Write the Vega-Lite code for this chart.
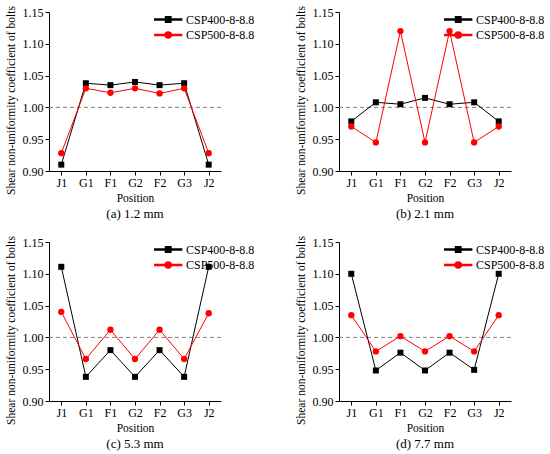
{
  "$schema": "https://vega.github.io/schema/vega-lite/v6.json",
  "background": "white",
  "padding": 5,
  "columns": 2,
  "spacing": {"row": 14, "column": 40},
  "config": {
    "font": "Liberation Serif",
    "view": {"stroke": null},
    "axis": {
      "domainColor": "black", "tickColor": "black", "labelColor": "black", "titleColor": "black",
      "labelFont": "Liberation Serif", "titleFont": "Liberation Serif",
      "labelFontSize": 12, "titleFontSize": 11.5, "titleFontWeight": "normal",
      "grid": false, "tickSize": 4
    },
    "axisY": {"titleY": 88, "titlePadding": 6},
    "axisX": {"titlePadding": 4},
    "legend": {
      "labelFont": "Liberation Serif", "labelFontSize": 12, "labelColor": "black",
      "symbolSize": 180, "labelOffset": 17, "rowPadding": 1.5, "orient": "none", "legendX": 105, "legendY": 0
    },
    "title": {"font": "Liberation Serif", "fontSize": 13, "fontWeight": "normal", "color": "black", "orient": "bottom", "anchor": "middle", "offset": 4}
  },
  "datasets": {
    "bolts": [
      {"panel": "a", "series": "CSP400-8-8.8", "pos": "J1", "v": 0.910},
      {"panel": "a", "series": "CSP400-8-8.8", "pos": "G1", "v": 1.038},
      {"panel": "a", "series": "CSP400-8-8.8", "pos": "F1", "v": 1.035},
      {"panel": "a", "series": "CSP400-8-8.8", "pos": "G2", "v": 1.040},
      {"panel": "a", "series": "CSP400-8-8.8", "pos": "F2", "v": 1.035},
      {"panel": "a", "series": "CSP400-8-8.8", "pos": "G3", "v": 1.038},
      {"panel": "a", "series": "CSP400-8-8.8", "pos": "J2", "v": 0.910},
      {"panel": "a", "series": "CSP500-8-8.8", "pos": "J1", "v": 0.928},
      {"panel": "a", "series": "CSP500-8-8.8", "pos": "G1", "v": 1.030},
      {"panel": "a", "series": "CSP500-8-8.8", "pos": "F1", "v": 1.023},
      {"panel": "a", "series": "CSP500-8-8.8", "pos": "G2", "v": 1.030},
      {"panel": "a", "series": "CSP500-8-8.8", "pos": "F2", "v": 1.022},
      {"panel": "a", "series": "CSP500-8-8.8", "pos": "G3", "v": 1.030},
      {"panel": "a", "series": "CSP500-8-8.8", "pos": "J2", "v": 0.928},
      {"panel": "b", "series": "CSP400-8-8.8", "pos": "J1", "v": 0.978},
      {"panel": "b", "series": "CSP400-8-8.8", "pos": "G1", "v": 1.008},
      {"panel": "b", "series": "CSP400-8-8.8", "pos": "F1", "v": 1.005},
      {"panel": "b", "series": "CSP400-8-8.8", "pos": "G2", "v": 1.015},
      {"panel": "b", "series": "CSP400-8-8.8", "pos": "F2", "v": 1.005},
      {"panel": "b", "series": "CSP400-8-8.8", "pos": "G3", "v": 1.008},
      {"panel": "b", "series": "CSP400-8-8.8", "pos": "J2", "v": 0.978},
      {"panel": "b", "series": "CSP500-8-8.8", "pos": "J1", "v": 0.970},
      {"panel": "b", "series": "CSP500-8-8.8", "pos": "G1", "v": 0.945},
      {"panel": "b", "series": "CSP500-8-8.8", "pos": "F1", "v": 1.120},
      {"panel": "b", "series": "CSP500-8-8.8", "pos": "G2", "v": 0.945},
      {"panel": "b", "series": "CSP500-8-8.8", "pos": "F2", "v": 1.120},
      {"panel": "b", "series": "CSP500-8-8.8", "pos": "G3", "v": 0.945},
      {"panel": "b", "series": "CSP500-8-8.8", "pos": "J2", "v": 0.970},
      {"panel": "c", "series": "CSP400-8-8.8", "pos": "J1", "v": 1.111},
      {"panel": "c", "series": "CSP400-8-8.8", "pos": "G1", "v": 0.938},
      {"panel": "c", "series": "CSP400-8-8.8", "pos": "F1", "v": 0.980},
      {"panel": "c", "series": "CSP400-8-8.8", "pos": "G2", "v": 0.938},
      {"panel": "c", "series": "CSP400-8-8.8", "pos": "F2", "v": 0.980},
      {"panel": "c", "series": "CSP400-8-8.8", "pos": "G3", "v": 0.938},
      {"panel": "c", "series": "CSP400-8-8.8", "pos": "J2", "v": 1.111},
      {"panel": "c", "series": "CSP500-8-8.8", "pos": "J1", "v": 1.040},
      {"panel": "c", "series": "CSP500-8-8.8", "pos": "G1", "v": 0.966},
      {"panel": "c", "series": "CSP500-8-8.8", "pos": "F1", "v": 1.012},
      {"panel": "c", "series": "CSP500-8-8.8", "pos": "G2", "v": 0.966},
      {"panel": "c", "series": "CSP500-8-8.8", "pos": "F2", "v": 1.012},
      {"panel": "c", "series": "CSP500-8-8.8", "pos": "G3", "v": 0.966},
      {"panel": "c", "series": "CSP500-8-8.8", "pos": "J2", "v": 1.038},
      {"panel": "d", "series": "CSP400-8-8.8", "pos": "J1", "v": 1.100},
      {"panel": "d", "series": "CSP400-8-8.8", "pos": "G1", "v": 0.948},
      {"panel": "d", "series": "CSP400-8-8.8", "pos": "F1", "v": 0.976},
      {"panel": "d", "series": "CSP400-8-8.8", "pos": "G2", "v": 0.948},
      {"panel": "d", "series": "CSP400-8-8.8", "pos": "F2", "v": 0.976},
      {"panel": "d", "series": "CSP400-8-8.8", "pos": "G3", "v": 0.949},
      {"panel": "d", "series": "CSP400-8-8.8", "pos": "J2", "v": 1.100},
      {"panel": "d", "series": "CSP500-8-8.8", "pos": "J1", "v": 1.035},
      {"panel": "d", "series": "CSP500-8-8.8", "pos": "G1", "v": 0.978},
      {"panel": "d", "series": "CSP500-8-8.8", "pos": "F1", "v": 1.002},
      {"panel": "d", "series": "CSP500-8-8.8", "pos": "G2", "v": 0.978},
      {"panel": "d", "series": "CSP500-8-8.8", "pos": "F2", "v": 1.002},
      {"panel": "d", "series": "CSP500-8-8.8", "pos": "G3", "v": 0.978},
      {"panel": "d", "series": "CSP500-8-8.8", "pos": "J2", "v": 1.035}
    ],
    "ref": [{"ref": 1.0}]
  },
  "concat": [
    {
      "title": "(a) 1.2 mm",
      "width": 172, "height": 159,
      "layer": [
        {
          "data": {"name": "ref"},
          "mark": {"type": "rule", "color": "#808080", "strokeDash": [4, 3], "strokeWidth": 1},
          "encoding": {"y": {"field": "ref", "type": "quantitative", "scale": {"domain": [0.9, 1.15], "nice": false, "zero": false}, "axis": {"values": [0.9, 0.95, 1.0, 1.05, 1.1, 1.15], "format": ".2f"}, "title": "Shear non-uniformity coefficient of bolts"}}
        },
        {
          "data": {"name": "bolts"},
          "transform": [{"filter": "datum.panel == 'a'"}],
          "encoding": {
            "x": {"field": "pos", "type": "ordinal", "sort": ["J1", "G1", "F1", "G2", "F2", "G3", "J2"], "scale": {"type": "point", "padding": 0.5}, "axis": {"labelAngle": 0}, "title": "Position"},
            "y": {"field": "v", "type": "quantitative", "scale": {"domain": [0.9, 1.15], "nice": false, "zero": false}, "axis": {"values": [0.9, 0.95, 1.0, 1.05, 1.1, 1.15], "format": ".2f"}, "title": "Shear non-uniformity coefficient of bolts"},
            "color": {"field": "series", "type": "nominal", "scale": {"domain": ["CSP400-8-8.8", "CSP500-8-8.8"], "range": ["#000000", "#ff0000"]}, "legend": {"title": null, "encode": {"symbols": {"update": {"shape": {"signal": "datum.value == 'CSP400-8-8.8' ? 'M-1,-0.08H3V0.08H-1Z M0.6,-0.4H1.4V0.4H0.6Z' : 'M-1,-0.08H3V0.08H-1Z M0.55,0A0.45,0.45 0 1,1 1.45,0A0.45,0.45 0 1,1 0.55,0Z'"}, "fill": {"signal": "datum.value == 'CSP400-8-8.8' ? '#000000' : '#ff0000'"}, "stroke": {"value": "transparent"}, "opacity": {"value": 1}}}}}}
          },
          "layer": [
            {"mark": {"type": "line", "strokeWidth": 1}},
            {"transform": [{"filter": "datum.series == 'CSP400-8-8.8'"}], "mark": {"type": "point", "shape": "square", "filled": true, "opacity": 1, "size": 36}},
            {"transform": [{"filter": "datum.series == 'CSP500-8-8.8'"}], "mark": {"type": "point", "shape": "circle", "filled": true, "opacity": 1, "size": 40}}
          ]
        }
      ]
    },
    {
      "title": "(b) 2.1 mm",
      "width": 172, "height": 159,
      "layer": [
        {
          "data": {"name": "ref"},
          "mark": {"type": "rule", "color": "#808080", "strokeDash": [4, 3], "strokeWidth": 1},
          "encoding": {"y": {"field": "ref", "type": "quantitative", "scale": {"domain": [0.9, 1.15], "nice": false, "zero": false}, "axis": {"values": [0.9, 0.95, 1.0, 1.05, 1.1, 1.15], "format": ".2f"}, "title": "Shear non-uniformity coefficient of bolts"}}
        },
        {
          "data": {"name": "bolts"},
          "transform": [{"filter": "datum.panel == 'b'"}],
          "encoding": {
            "x": {"field": "pos", "type": "ordinal", "sort": ["J1", "G1", "F1", "G2", "F2", "G3", "J2"], "scale": {"type": "point", "padding": 0.5}, "axis": {"labelAngle": 0}, "title": "Position"},
            "y": {"field": "v", "type": "quantitative", "scale": {"domain": [0.9, 1.15], "nice": false, "zero": false}, "axis": {"values": [0.9, 0.95, 1.0, 1.05, 1.1, 1.15], "format": ".2f"}, "title": "Shear non-uniformity coefficient of bolts"},
            "color": {"field": "series", "type": "nominal", "scale": {"domain": ["CSP400-8-8.8", "CSP500-8-8.8"], "range": ["#000000", "#ff0000"]}, "legend": {"title": null, "encode": {"symbols": {"update": {"shape": {"signal": "datum.value == 'CSP400-8-8.8' ? 'M-1,-0.08H3V0.08H-1Z M0.6,-0.4H1.4V0.4H0.6Z' : 'M-1,-0.08H3V0.08H-1Z M0.55,0A0.45,0.45 0 1,1 1.45,0A0.45,0.45 0 1,1 0.55,0Z'"}, "fill": {"signal": "datum.value == 'CSP400-8-8.8' ? '#000000' : '#ff0000'"}, "stroke": {"value": "transparent"}, "opacity": {"value": 1}}}}}}
          },
          "layer": [
            {"mark": {"type": "line", "strokeWidth": 1}},
            {"transform": [{"filter": "datum.series == 'CSP400-8-8.8'"}], "mark": {"type": "point", "shape": "square", "filled": true, "opacity": 1, "size": 36}},
            {"transform": [{"filter": "datum.series == 'CSP500-8-8.8'"}], "mark": {"type": "point", "shape": "circle", "filled": true, "opacity": 1, "size": 40}}
          ]
        }
      ]
    },
    {
      "title": "(c) 5.3 mm",
      "width": 172, "height": 159,
      "layer": [
        {
          "data": {"name": "ref"},
          "mark": {"type": "rule", "color": "#808080", "strokeDash": [4, 3], "strokeWidth": 1},
          "encoding": {"y": {"field": "ref", "type": "quantitative", "scale": {"domain": [0.9, 1.15], "nice": false, "zero": false}, "axis": {"values": [0.9, 0.95, 1.0, 1.05, 1.1, 1.15], "format": ".2f"}, "title": "Shear non-uniformity coefficient of bolts"}}
        },
        {
          "data": {"name": "bolts"},
          "transform": [{"filter": "datum.panel == 'c'"}],
          "encoding": {
            "x": {"field": "pos", "type": "ordinal", "sort": ["J1", "G1", "F1", "G2", "F2", "G3", "J2"], "scale": {"type": "point", "padding": 0.5}, "axis": {"labelAngle": 0}, "title": "Position"},
            "y": {"field": "v", "type": "quantitative", "scale": {"domain": [0.9, 1.15], "nice": false, "zero": false}, "axis": {"values": [0.9, 0.95, 1.0, 1.05, 1.1, 1.15], "format": ".2f"}, "title": "Shear non-uniformity coefficient of bolts"},
            "color": {"field": "series", "type": "nominal", "scale": {"domain": ["CSP400-8-8.8", "CSP500-8-8.8"], "range": ["#000000", "#ff0000"]}, "legend": {"title": null, "encode": {"symbols": {"update": {"shape": {"signal": "datum.value == 'CSP400-8-8.8' ? 'M-1,-0.08H3V0.08H-1Z M0.6,-0.4H1.4V0.4H0.6Z' : 'M-1,-0.08H3V0.08H-1Z M0.55,0A0.45,0.45 0 1,1 1.45,0A0.45,0.45 0 1,1 0.55,0Z'"}, "fill": {"signal": "datum.value == 'CSP400-8-8.8' ? '#000000' : '#ff0000'"}, "stroke": {"value": "transparent"}, "opacity": {"value": 1}}}}}}
          },
          "layer": [
            {"mark": {"type": "line", "strokeWidth": 1}},
            {"transform": [{"filter": "datum.series == 'CSP400-8-8.8'"}], "mark": {"type": "point", "shape": "square", "filled": true, "opacity": 1, "size": 36}},
            {"transform": [{"filter": "datum.series == 'CSP500-8-8.8'"}], "mark": {"type": "point", "shape": "circle", "filled": true, "opacity": 1, "size": 40}}
          ]
        }
      ]
    },
    {
      "title": "(d) 7.7 mm",
      "width": 172, "height": 159,
      "layer": [
        {
          "data": {"name": "ref"},
          "mark": {"type": "rule", "color": "#808080", "strokeDash": [4, 3], "strokeWidth": 1},
          "encoding": {"y": {"field": "ref", "type": "quantitative", "scale": {"domain": [0.9, 1.15], "nice": false, "zero": false}, "axis": {"values": [0.9, 0.95, 1.0, 1.05, 1.1, 1.15], "format": ".2f"}, "title": "Shear non-uniformity coefficient of bolts"}}
        },
        {
          "data": {"name": "bolts"},
          "transform": [{"filter": "datum.panel == 'd'"}],
          "encoding": {
            "x": {"field": "pos", "type": "ordinal", "sort": ["J1", "G1", "F1", "G2", "F2", "G3", "J2"], "scale": {"type": "point", "padding": 0.5}, "axis": {"labelAngle": 0}, "title": "Position"},
            "y": {"field": "v", "type": "quantitative", "scale": {"domain": [0.9, 1.15], "nice": false, "zero": false}, "axis": {"values": [0.9, 0.95, 1.0, 1.05, 1.1, 1.15], "format": ".2f"}, "title": "Shear non-uniformity coefficient of bolts"},
            "color": {"field": "series", "type": "nominal", "scale": {"domain": ["CSP400-8-8.8", "CSP500-8-8.8"], "range": ["#000000", "#ff0000"]}, "legend": {"title": null, "encode": {"symbols": {"update": {"shape": {"signal": "datum.value == 'CSP400-8-8.8' ? 'M-1,-0.08H3V0.08H-1Z M0.6,-0.4H1.4V0.4H0.6Z' : 'M-1,-0.08H3V0.08H-1Z M0.55,0A0.45,0.45 0 1,1 1.45,0A0.45,0.45 0 1,1 0.55,0Z'"}, "fill": {"signal": "datum.value == 'CSP400-8-8.8' ? '#000000' : '#ff0000'"}, "stroke": {"value": "transparent"}, "opacity": {"value": 1}}}}}}
          },
          "layer": [
            {"mark": {"type": "line", "strokeWidth": 1}},
            {"transform": [{"filter": "datum.series == 'CSP400-8-8.8'"}], "mark": {"type": "point", "shape": "square", "filled": true, "opacity": 1, "size": 36}},
            {"transform": [{"filter": "datum.series == 'CSP500-8-8.8'"}], "mark": {"type": "point", "shape": "circle", "filled": true, "opacity": 1, "size": 40}}
          ]
        }
      ]
    }
  ],
  "resolve": {"scale": {"x": "independent", "y": "independent", "color": "independent"}, "legend": {"color": "independent"}}
}
